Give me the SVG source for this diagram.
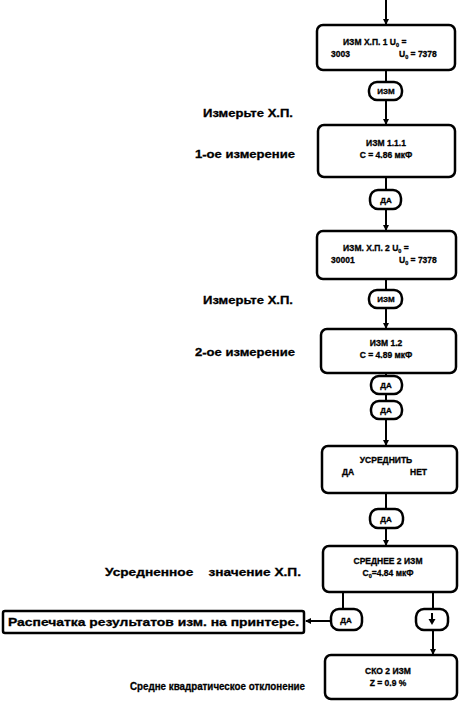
<svg xmlns="http://www.w3.org/2000/svg" width="462" height="701" viewBox="0 0 462 701">
<style>
.box{fill:#fff;stroke:#000;stroke-width:2.5}
.pill{fill:#fff;stroke:#000;stroke-width:2.5}
.ln{stroke:#000;stroke-width:2;fill:none}
.t{font-family:"Liberation Sans",Arial,sans-serif;font-weight:bold;font-size:8.5px;fill:#000;stroke:#000;stroke-width:0.3}
.p{font-family:"Liberation Sans",Arial,sans-serif;font-weight:bold;font-size:8px;fill:#000;text-anchor:middle;stroke:#000;stroke-width:0.3}
.lb{font-family:"Liberation Sans",Arial,sans-serif;font-weight:bold;font-size:11.5px;fill:#000;stroke:#000;stroke-width:0.3}
</style>
<defs>
<marker id="ah" markerWidth="6" markerHeight="6" refX="5" refY="3" orient="auto" markerUnits="userSpaceOnUse">
<path d="M0,0 L6,3 L0,6 z" fill="#000"/>
</marker>
</defs>
<g id="connectors">
<line class="ln" x1="386" y1="0" x2="386" y2="24" marker-end="url(#ah)"/>
<line class="ln" x1="386" y1="70" x2="386" y2="82"/>
<line class="ln" x1="386" y1="100" x2="386" y2="124" marker-end="url(#ah)"/>
<line class="ln" x1="386" y1="177" x2="386" y2="190"/>
<line class="ln" x1="386" y1="209" x2="386" y2="230" marker-end="url(#ah)"/>
<line class="ln" x1="386" y1="279" x2="386" y2="290"/>
<line class="ln" x1="386" y1="308" x2="386" y2="328" marker-end="url(#ah)"/>
<line class="ln" x1="386" y1="372" x2="386" y2="376"/>
<line class="ln" x1="386" y1="394" x2="386" y2="401"/>
<line class="ln" x1="386" y1="419" x2="386" y2="445" marker-end="url(#ah)"/>
<line class="ln" x1="386" y1="493" x2="386" y2="509"/>
<line class="ln" x1="386" y1="528" x2="386" y2="545" marker-end="url(#ah)"/>
<line class="ln" x1="343" y1="592" x2="343" y2="609"/>
<line class="ln" x1="433" y1="592" x2="433" y2="609"/>
<line class="ln" x1="331" y1="621" x2="306" y2="621" marker-end="url(#ah)"/>
<line class="ln" x1="433" y1="630" x2="433" y2="654" marker-end="url(#ah)"/>
</g>
<g id="box1">
<rect class="box" x="317" y="25" width="138" height="45" rx="6"/>
<text class="t" x="343" y="45">ИЗМ  Х.П. 1 U<tspan font-size="5.5" dy="2">0</tspan><tspan dy="-2"> =</tspan></text>
<text class="t" x="331" y="57">3003</text>
<text class="t" x="399" y="57">U<tspan font-size="5.5" dy="2">0</tspan><tspan dy="-2"> = 7378</tspan></text>
</g>
<g id="pill1">
<rect class="pill" x="369" y="82" width="33" height="18" rx="8"/>
<text class="p" x="386" y="94">ИЗМ</text>
</g>
<g id="box2">
<rect class="box" x="318" y="125" width="137" height="52" rx="6"/>
<text class="t" x="386" y="146" text-anchor="middle">ИЗМ 1.1.1</text>
<text class="t" x="386" y="158" text-anchor="middle">C = 4.86 мкФ</text>
</g>
<g id="pill2">
<rect class="pill" x="370" y="190" width="31" height="19" rx="8"/>
<text class="p" x="386" y="203">ДА</text>
</g>
<g id="box3">
<rect class="box" x="317" y="231" width="139" height="48" rx="6"/>
<text class="t" x="343" y="251">ИЗМ. Х.П. 2 U<tspan font-size="5.5" dy="2">0</tspan><tspan dy="-2"> =</tspan></text>
<text class="t" x="331" y="263">30001</text>
<text class="t" x="399" y="263">U<tspan font-size="5.5" dy="2">0</tspan><tspan dy="-2"> = 7378</tspan></text>
</g>
<g id="pill3">
<rect class="pill" x="369" y="290" width="33" height="18" rx="8"/>
<text class="p" x="386" y="302">ИЗМ</text>
</g>
<g id="box4">
<rect class="box" x="321" y="329" width="135" height="44" rx="6"/>
<text class="t" x="386" y="346" text-anchor="middle">ИЗМ 1.2</text>
<text class="t" x="386" y="358" text-anchor="middle">C = 4.89 мкФ</text>
</g>
<g id="pill4">
<rect class="pill" x="371" y="376" width="31" height="18" rx="8"/>
<text class="p" x="386" y="388">ДА</text>
</g>
<g id="pill5">
<rect class="pill" x="371" y="401" width="31" height="18" rx="8"/>
<text class="p" x="386" y="413">ДА</text>
</g>
<g id="box5">
<rect class="box" x="322" y="446" width="135" height="47" rx="6"/>
<text class="t" x="386" y="463" text-anchor="middle">УСРЕДНИТЬ</text>
<text class="t" x="342" y="475">ДА</text>
<text class="t" x="410" y="475">НЕТ</text>
</g>
<g id="pill6">
<rect class="pill" x="370" y="509" width="33" height="19" rx="8"/>
<text class="p" x="386" y="522">ДА</text>
</g>
<g id="box6">
<rect class="box" x="323" y="546" width="134" height="46" rx="6"/>
<text class="t" x="388" y="564" text-anchor="middle">СРЕДНЕЕ  2 ИЗМ</text>
<text class="t" x="388" y="576" text-anchor="middle">C<tspan font-size="5.5" dy="2">0</tspan><tspan dy="-2">=4.84 мкФ</tspan></text>
</g>
<g id="pill7">
<rect class="pill" x="331" y="609" width="31" height="21" rx="8"/>
<text class="p" x="346" y="623">ДА</text>
</g>
<g id="pill8">
<rect class="pill" x="416" y="609" width="32" height="21" rx="8"/>
<path d="M432,613 L432,620" stroke="#000" stroke-width="2"/>
<path d="M428.5,619 L435.5,619 L432,625 z" fill="#000"/>
</g>
<g id="printer">
<rect class="box" x="3" y="611" width="301" height="22" rx="2"/>
<text x="8" y="626" font-family="'Liberation Sans',Arial,sans-serif" font-weight="bold" font-size="11" stroke="#000" stroke-width="0.3" textLength="291" lengthAdjust="spacingAndGlyphs">Распечатка результатов изм. на принтере.</text>
</g>
<g id="box7">
<rect class="box" x="325" y="655" width="132" height="44" rx="6"/>
<text class="t" x="388" y="674" text-anchor="middle">СКО  2 ИЗМ</text>
<text class="t" x="388" y="686" text-anchor="middle">Z = 0.9 %</text>
</g>
<g id="labels">
<text class="lb" x="203" y="117" textLength="90" lengthAdjust="spacingAndGlyphs">Измерьте Х.П.</text>
<text class="lb" x="195" y="158" textLength="100" lengthAdjust="spacingAndGlyphs">1-ое измерение</text>
<text class="lb" x="203" y="304" textLength="90" lengthAdjust="spacingAndGlyphs">Измерьте Х.П.</text>
<text class="lb" x="195" y="356" textLength="100" lengthAdjust="spacingAndGlyphs">2-ое измерение</text>
<text class="lb" x="105" y="576" textLength="196" lengthAdjust="spacingAndGlyphs" xml:space="preserve">Усредненное    значение Х.П.</text>
<text class="lb" x="130" y="690" font-size="10.5" textLength="175" lengthAdjust="spacingAndGlyphs">Средне квадратическое отклонение</text>
</g>
</svg>
